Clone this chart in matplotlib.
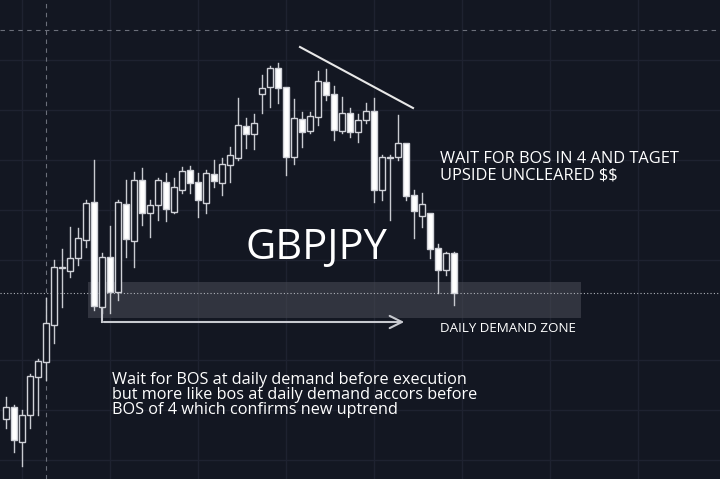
import matplotlib
matplotlib.use("Agg")
import matplotlib.pyplot as plt
from matplotlib.patches import Rectangle

# Candle data (price units), bar index 0..56
opens  = [60,72,37,64,102,117,154,211,208,221,239,277,172,222,187,275,238,299,266,274,297,267,289,309,297,276,305,296,314,321,353,345,385,392,411,392,322,360,348,362,397,385,348,366,347,359,368,289,321,322,336,284,263,266,231,209,226]
closes = [72,39,64,103,118,156,212,212,221,241,276,173,222,187,277,240,299,266,274,299,270,292,308,296,279,306,298,315,324,354,345,356,391,411,391,322,361,347,363,398,384,349,366,347,359,368,289,322,322,336,283,268,275,230,209,226,186]
highs  = [82,74,69,105,120,181,219,230,252,251,279,319,226,253,279,299,307,311,279,301,306,301,312,313,306,309,319,321,332,381,361,365,404,413,416,392,380,367,367,408,410,393,382,371,365,376,381,324,324,364,336,289,286,266,235,227,227]
lows   = [51,27,13,51,64,99,136,172,202,214,232,169,166,166,179,222,212,254,242,259,258,266,286,286,262,266,292,284,297,319,331,330,366,372,376,304,315,332,346,354,379,339,346,342,337,356,277,279,259,319,279,241,252,221,186,204,174]

BG = "#131722"
fig = plt.figure(figsize=(7.2, 4.79), dpi=100, facecolor=BG)
ax = fig.add_axes([0, 0, 1, 1], facecolor=BG)
ax.set_xlim(-0.75, 89.25)
ax.set_ylim(0, 479)
ax.axis("off")

# faint grid
for gx in [22, 110, 198, 286, 374, 462, 550, 638]:
    ax.axvline((gx - 6) / 8, color="#1e2230", lw=1, zorder=0)
for gy in [60, 110, 160, 210, 260, 360, 410, 460]:
    ax.axhline(479 - gy, color="#1e2230", lw=1, zorder=0)
ax.axhline(479 - 30, color="#6b6f7a", lw=0.8, ls=(0, (4, 4)), zorder=1)
ax.axvline((46 - 6) / 8, color="#6b6f7a", lw=0.8, ls=(0, (4, 4)), zorder=1)

# demand zone
ax.add_patch(Rectangle(((88 - 6) / 8, 479 - 318), (581 - 88) / 8, 36,
                       facecolor="#4a4d57", alpha=0.55, edgecolor="none", zorder=1))
ax.axhline(479 - 293, color="#b0b3ba", lw=0.8, ls=(0, (1, 2)), zorder=2)

for i, (o, c, h, l) in enumerate(zip(opens, closes, highs, lows)):
    ax.plot([i, i], [l, min(o, c)], color="#c8cad0", lw=1, zorder=3)
    ax.plot([i, i], [max(o, c), h], color="#c8cad0", lw=1, zorder=3)
    down = c < o
    ax.add_patch(Rectangle((i - 0.32, min(o, c)), 0.64, max(abs(c - o), 0.8),
                           facecolor="white" if down else BG,
                           edgecolor="#d0d2d8", lw=1, zorder=4))

# annotations
ax.plot([(300 - 6) / 8, (413 - 6) / 8], [479 - 47, 479 - 108], color="#e8e8e8", lw=1.5, zorder=5)
ax.plot([(102 - 6) / 8, (102 - 6) / 8], [479 - 308, 479 - 322], color="#c8cad0", lw=1.5, zorder=5)
ax.annotate("", xy=((407 - 6) / 8, 479 - 322), xytext=((101 - 6) / 8, 479 - 322),
            arrowprops=dict(arrowstyle="->", color="#c8cad0", lw=1.5, mutation_scale=22), zorder=5)

ax.text((246 - 6) / 8, 479 - 248, "GBPJPY", color="white", fontsize=30, va="center", ha="left",
        family="Open Sans")
ax.text((440 - 6) / 8, 479 - 167, "WAIT FOR BOS IN 4 AND TAGET\nUPSIDE UNCLEARED \\$\\$", color="white",
        fontsize=11.8, va="center", ha="left", linespacing=1.0, family="Open Sans")
ax.text((440 - 6) / 8, 479 - 328, "DAILY DEMAND ZONE", color="white", fontsize=9.6,
        va="center", ha="left", family="Open Sans")
ax.text((112 - 6) / 8, 479 - 395,
        "Wait for BOS at daily demand before execution\nbut more like bos at daily demand accors before\nBOS of 4 which confirms new uptrend",
        color="white", fontsize=11.7, va="center", ha="left", linespacing=0.95, family="Open Sans")

fig.savefig("out.png", dpi=100, facecolor=BG)
